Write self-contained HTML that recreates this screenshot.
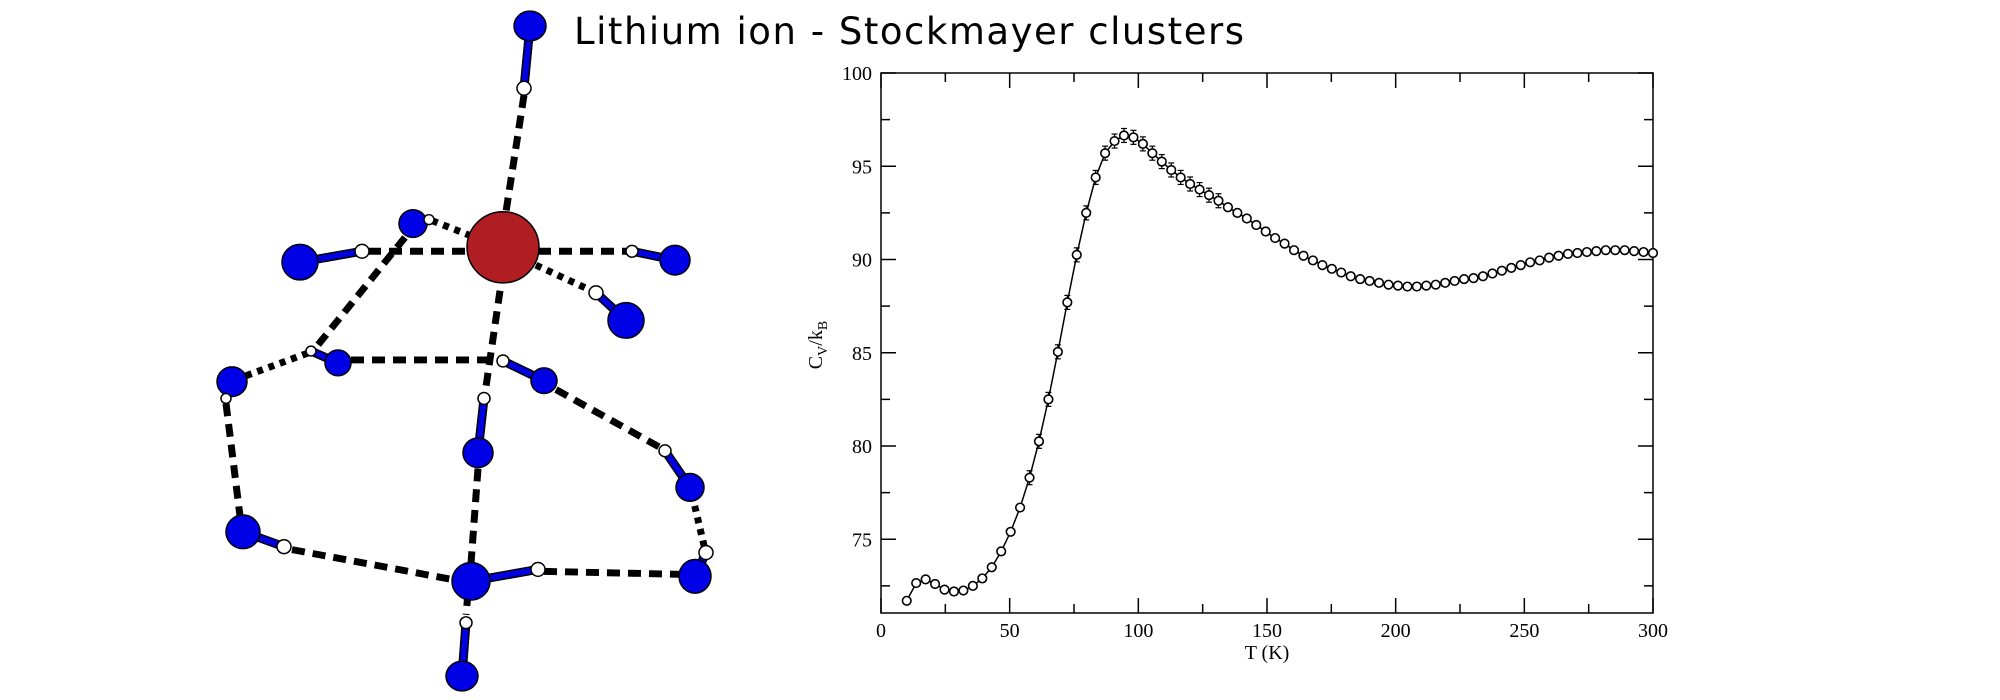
<!DOCTYPE html>
<html><head><meta charset="utf-8"><style>html,body{margin:0;padding:0;background:#fff}svg{display:block}</style></head><body>
<svg width="2000" height="700" viewBox="0 0 2000 700" xmlns="http://www.w3.org/2000/svg">
<rect width="2000" height="700" fill="#fff"/>
<text x="574" y="44" font-family="DejaVu Sans, sans-serif" font-size="37" textLength="670" fill="#000">Lithium ion - Stockmayer clusters</text>
<g id="mol" stroke="#000" fill="none" transform="translate(0,0.3) scale(1,0.988)">
<g stroke-width="7" stroke-dasharray="13,8">
<line x1="524" y1="96" x2="506" y2="214"/>
<line x1="368" y1="254" x2="468" y2="254"/>
<line x1="538" y1="254" x2="630" y2="254"/>
<line x1="500" y1="294" x2="485" y2="398"/>
<line x1="478" y1="474" x2="471" y2="570"/>
<line x1="405" y1="240" x2="313" y2="355"/>
<line x1="351" y1="364" x2="490" y2="364"/>
<line x1="226" y1="408" x2="240" y2="522"/>
<line x1="292" y1="556" x2="451" y2="586"/>
<line x1="544" y1="578" x2="680" y2="581"/>
<line x1="556" y1="394" x2="659" y2="452"/>
<line x1="468" y1="600" x2="466" y2="622"/>
</g>
<g stroke-width="7" stroke-dasharray="6,6">
<line x1="525" y1="263" x2="596" y2="296"/>
<line x1="432" y1="223" x2="470" y2="238"/>
<line x1="246" y1="380" x2="308" y2="357"/>
<line x1="692" y1="500" x2="705" y2="556"/>
</g>
<g stroke-width="9" stroke-linecap="butt">
<line x1="530" y1="26" x2="524" y2="89"/><line x1="413" y1="226" x2="429" y2="222"/>
<line x1="300" y1="265" x2="362" y2="254"/><line x1="675" y1="263" x2="632" y2="254"/>
<line x1="626" y1="324" x2="596" y2="296"/><line x1="338" y1="367" x2="311" y2="355"/>
<line x1="232" y1="386" x2="226" y2="403"/><line x1="544" y1="385" x2="503" y2="365"/>
<line x1="478" y1="458" x2="484" y2="403"/><line x1="690" y1="493" x2="665" y2="456"/>
<line x1="243" y1="538" x2="284" y2="553"/><line x1="471" y1="588" x2="538" y2="576"/>
<line x1="462" y1="684" x2="466" y2="630"/><line x1="695" y1="583" x2="706" y2="559"/>
</g>
<g stroke="#0000e0" stroke-width="6">
<line x1="530" y1="26" x2="524" y2="89"/><line x1="413" y1="226" x2="429" y2="222"/>
<line x1="300" y1="265" x2="362" y2="254"/><line x1="675" y1="263" x2="632" y2="254"/>
<line x1="626" y1="324" x2="596" y2="296"/><line x1="338" y1="367" x2="311" y2="355"/>
<line x1="232" y1="386" x2="226" y2="403"/><line x1="544" y1="385" x2="503" y2="365"/>
<line x1="478" y1="458" x2="484" y2="403"/><line x1="690" y1="493" x2="665" y2="456"/>
<line x1="243" y1="538" x2="284" y2="553"/><line x1="471" y1="588" x2="538" y2="576"/>
<line x1="462" y1="684" x2="466" y2="630"/><line x1="695" y1="583" x2="706" y2="559"/>
</g>
<g fill="#0000e6" stroke-width="1.5">
<ellipse cx="530" cy="26" rx="16" ry="15"/><ellipse cx="413" cy="226" rx="14" ry="14"/>
<ellipse cx="300" cy="265" rx="18" ry="18"/><ellipse cx="675" cy="263" rx="15" ry="15"/>
<ellipse cx="626" cy="324" rx="18" ry="18"/><ellipse cx="338" cy="367" rx="13" ry="13"/>
<ellipse cx="232" cy="386" rx="15" ry="15"/><ellipse cx="544" cy="385" rx="13" ry="13"/>
<ellipse cx="478" cy="458" rx="15" ry="15"/><ellipse cx="690" cy="493" rx="14" ry="14"/>
<ellipse cx="243" cy="538" rx="17" ry="17"/><ellipse cx="471" cy="588" rx="19" ry="19"/>
<ellipse cx="695" cy="583" rx="16" ry="17"/><ellipse cx="462" cy="684" rx="16" ry="15"/>
</g>
<circle cx="503" cy="250" r="36" fill="#b01e24" stroke-width="1.5"/>
<g fill="#fff" stroke-width="1.5">
<circle cx="524" cy="89" r="7"/><circle cx="429" cy="222" r="5"/><circle cx="362" cy="254" r="7"/>
<circle cx="632" cy="254" r="6"/><circle cx="596" cy="296" r="7"/><circle cx="311" cy="355" r="5"/>
<circle cx="226" cy="403" r="5"/><circle cx="503" cy="365" r="6"/><circle cx="484" cy="403" r="6"/>
<circle cx="665" cy="456" r="6"/><circle cx="706" cy="559" r="7"/><circle cx="284" cy="553" r="7"/>
<circle cx="538" cy="576" r="7"/><circle cx="466" cy="630" r="6"/>
</g>
</g>
<g id="chart"></g>
</svg>
<script>
(function(){
var NS="http://www.w3.org/2000/svg",g=document.getElementById("chart");
var L=881,R=1653,T=73,B=613;
function X(t){return L+(t/300)*(R-L);}
function Y(v){return T+(100-v)*18.65;}
function el(n,a,txt){var e=document.createElementNS(NS,n);for(var k in a)e.setAttribute(k,a[k]);if(txt!=null)e.textContent=txt;g.appendChild(e);return e;}
el("rect",{x:L,y:T,width:R-L,height:B-T,fill:"none",stroke:"#000","stroke-width":1.5});
var f='"Liberation Serif", serif';
for(var t=0;t<=300;t+=25){var maj=t%50==0,len=maj?15:9,x=X(t);
 el("line",{x1:x,y1:B,x2:x,y2:B-len,stroke:"#000","stroke-width":1.5});
 el("line",{x1:x,y1:T,x2:x,y2:T+len,stroke:"#000","stroke-width":1.5});
 if(maj)el("text",{x:x,y:637,"font-family":f,"font-size":20,"text-anchor":"middle"},String(t));}
for(var v=72.5;v<=100;v+=2.5){var maj=v%5==0,len=maj?15:9,y=Y(v);
 el("line",{x1:L,y1:y,x2:L+len,y2:y,stroke:"#000","stroke-width":1.5});
 el("line",{x1:R,y1:y,x2:R-len,y2:y,stroke:"#000","stroke-width":1.5});
 if(maj)el("text",{x:872,y:y+7,"font-family":f,"font-size":20,"text-anchor":"end"},String(v));}
el("text",{x:1267,y:659,"font-family":f,"font-size":20,"text-anchor":"middle"},"T (K)");
var yl=el("text",{transform:"translate(822,345) rotate(-90)","font-family":f,"font-size":20,"text-anchor":"middle"});
yl.innerHTML='C<tspan font-size="14" dy="5">V</tspan><tspan dy="-5">/k</tspan><tspan font-size="14" dy="5">B</tspan>';
var d=[71.7,72.65,72.85,72.6,72.3,72.2,72.25,72.5,72.9,73.5,74.35,75.4,76.7,78.3,80.25,82.5,85.05,87.7,90.25,92.5,94.4,95.7,96.35,96.65,96.55,96.2,95.7,95.25,94.8,94.4,94.05,93.75,93.45,93.15,92.8,92.5,92.2,91.85,91.5,91.15,90.85,90.5,90.2,89.95,89.7,89.5,89.3,89.1,88.95,88.85,88.75,88.65,88.6,88.55,88.55,88.6,88.65,88.75,88.85,88.95,89.0,89.1,89.25,89.4,89.55,89.7,89.85,89.95,90.1,90.2,90.3,90.35,90.4,90.45,90.5,90.5,90.5,90.45,90.4,90.35];
var n=d.length,pts=[];
for(var i=0;i<n;i++){pts.push(X(10+i*290/(n-1)).toFixed(1)+","+Y(d[i]).toFixed(1));}
el("polyline",{points:pts.join(" "),fill:"none",stroke:"#000","stroke-width":1.5});
for(var i=0;i<n;i++){var x=X(10+i*290/(n-1)),y=Y(d[i]);
 if(i>12&&i<34){el("line",{x1:x,y1:y-7,x2:x,y2:y+7,stroke:"#000","stroke-width":1.2});el("line",{x1:x-3,y1:y-7,x2:x+3,y2:y-7,stroke:"#000","stroke-width":1.2});el("line",{x1:x-3,y1:y+7,x2:x+3,y2:y+7,stroke:"#000","stroke-width":1.2});}
 el("circle",{cx:x,cy:y,r:4.3,fill:"#fff",stroke:"#000","stroke-width":1.6});}
})();
</script>
</body></html>
